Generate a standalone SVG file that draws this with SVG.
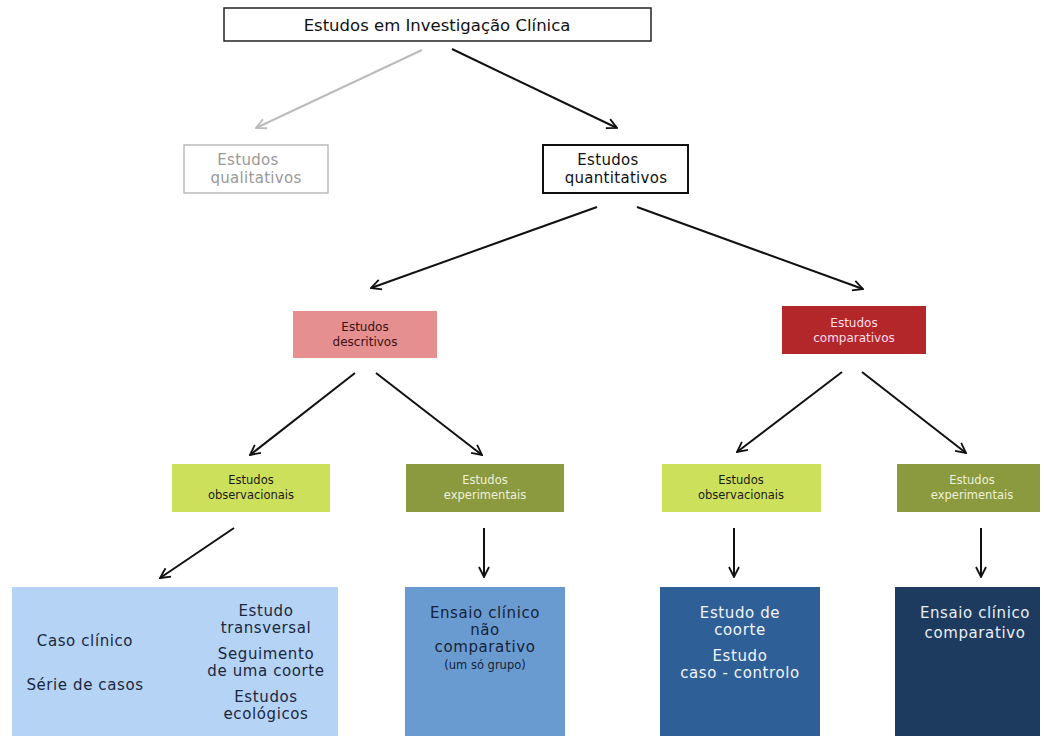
<svg xmlns="http://www.w3.org/2000/svg" width="1044" height="736" viewBox="0 0 1044 736">
<defs>
<marker id="ah" viewBox="0 0 12 12" refX="11" refY="6" markerWidth="12" markerHeight="12" markerUnits="userSpaceOnUse" orient="auto">
<path d="M1,1 L11,6 L1,11" fill="none" stroke="#111" stroke-width="1.8"/>
</marker>
<marker id="ahg" viewBox="0 0 12 12" refX="11" refY="6" markerWidth="12" markerHeight="12" markerUnits="userSpaceOnUse" orient="auto">
<path d="M1,1 L11,6 L1,11" fill="none" stroke="#bbb" stroke-width="1.8"/>
</marker>
</defs>
<style>
text{font-family:"DejaVu Sans","Liberation Sans",sans-serif;text-anchor:middle}
.c{stroke:#111;stroke-width:2;fill:none;marker-end:url(#ah)}
.cg{stroke:#bbb;stroke-width:2;fill:none;marker-end:url(#ahg)}
.t1{font-size:16.5px;fill:#111}
.t2{font-size:15px;letter-spacing:0.3px}
.t3{font-size:12px}
.t5{font-size:11.5px}
.t4{font-size:15px;letter-spacing:0.6px}
.t6{font-size:11.5px}
</style>
<rect width="1044" height="736" fill="#fff"/>
<g id="connectors">
<line class="cg" x1="422" y1="50" x2="256" y2="128"/>
<line class="c" x1="452" y1="49" x2="617" y2="128"/>
<line class="c" x1="597" y1="207" x2="371" y2="288"/>
<line class="c" x1="637" y1="207" x2="863" y2="289"/>
<line class="c" x1="355" y1="373" x2="250" y2="455"/>
<line class="c" x1="376" y1="373" x2="482" y2="455"/>
<line class="c" x1="842" y1="372" x2="737" y2="452"/>
<line class="c" x1="862" y1="372" x2="966" y2="453"/>
<line class="c" x1="234" y1="528" x2="160" y2="578"/>
<line class="c" x1="484" y1="528" x2="484" y2="577"/>
<line class="c" x1="734" y1="528" x2="734" y2="577"/>
<line class="c" x1="981" y1="528" x2="981" y2="577"/>
</g>
<g id="root">
<rect x="224" y="8" width="427" height="33" fill="#fff" stroke="#222" stroke-width="1.5"/>
<text class="t1" x="437" y="31">Estudos em Investigação Clínica</text>
</g>
<g id="qualitativos">
<rect x="184" y="145" width="144" height="48" fill="#fff" stroke="#bbb" stroke-width="1.5"/>
<text class="t2" x="248" y="165" fill="#999">Estudos</text>
<text class="t2" x="256" y="183" fill="#999">qualitativos</text>
</g>
<g id="quantitativos">
<rect x="543" y="145" width="145" height="48" fill="#fff" stroke="#111" stroke-width="2"/>
<text class="t2" x="608" y="165" fill="#111">Estudos</text>
<text class="t2" x="616" y="183" fill="#111">quantitativos</text>
</g>
<g id="descritivos">
<rect x="293" y="311" width="144" height="47" fill="#e58f91"/>
<text class="t3" x="365" y="331" fill="#3a1212">Estudos</text>
<text class="t3" x="365" y="346" fill="#3a1212">descritivos</text>
</g>
<g id="comparativos">
<rect x="782" y="306" width="144" height="48" fill="#b3262a"/>
<text class="t3" x="854" y="327" fill="#fde">Estudos</text>
<text class="t3" x="854" y="342" fill="#fde">comparativos</text>
</g>
<g id="obs1">
<rect x="172" y="464" width="158" height="48" fill="#cde05c"/>
<text class="t5" x="251" y="484" fill="#1a1a1a">Estudos</text>
<text class="t5" x="251" y="499" fill="#1a1a1a">observacionais</text>
</g>
<g id="exp1">
<rect x="406" y="464" width="158" height="48" fill="#8b9a3e"/>
<text class="t5" x="485" y="484" fill="#eef0dc">Estudos</text>
<text class="t5" x="485" y="499" fill="#eef0dc">experimentais</text>
</g>
<g id="obs2">
<rect x="662" y="464" width="159" height="48" fill="#cde05c"/>
<text class="t5" x="741" y="484" fill="#1a1a1a">Estudos</text>
<text class="t5" x="741" y="499" fill="#1a1a1a">observacionais</text>
</g>
<g id="exp2">
<rect x="897" y="464" width="143" height="48" fill="#8b9a3e"/>
<text class="t5" x="972" y="484" fill="#eef0dc">Estudos</text>
<text class="t5" x="972" y="499" fill="#eef0dc">experimentais</text>
</g>
<g id="box1">
<rect x="12" y="587" width="326" height="149" fill="#b5d3f5"/>
<g fill="#1b2740">
<text class="t4" x="85" y="646">Caso clínico</text>
<text class="t4" x="85" y="690">Série de casos</text>
<text class="t4" x="266" y="616">Estudo</text>
<text class="t4" x="266" y="633">transversal</text>
<text class="t4" x="266" y="659">Seguimento</text>
<text class="t4" x="266" y="676">de uma coorte</text>
<text class="t4" x="266" y="702">Estudos</text>
<text class="t4" x="266" y="719">ecológicos</text>
</g>
</g>
<g id="box2">
<rect x="405" y="587" width="160" height="149" fill="#6a9bd0"/>
<g fill="#152238">
<text class="t4" x="485" y="618">Ensaio clínico</text>
<text class="t4" x="485" y="635">não</text>
<text class="t4" x="485" y="652">comparativo</text>
<text class="t6" x="485" y="669">(um só grupo)</text>
</g>
</g>
<g id="box3">
<rect x="660" y="587" width="160" height="149" fill="#2f5f97"/>
<g fill="#f2f5fa">
<text class="t4" x="740" y="618">Estudo de</text>
<text class="t4" x="740" y="635">coorte</text>
<text class="t4" x="740" y="661">Estudo</text>
<text class="t4" x="740" y="678">caso - controlo</text>
</g>
</g>
<g id="box4">
<rect x="895" y="587" width="145" height="149" fill="#1d3a5f"/>
<g fill="#e8eef6">
<text class="t4" x="975" y="618">Ensaio clínico</text>
<text class="t4" x="975" y="638">comparativo</text>
</g>
</g>
</svg>
